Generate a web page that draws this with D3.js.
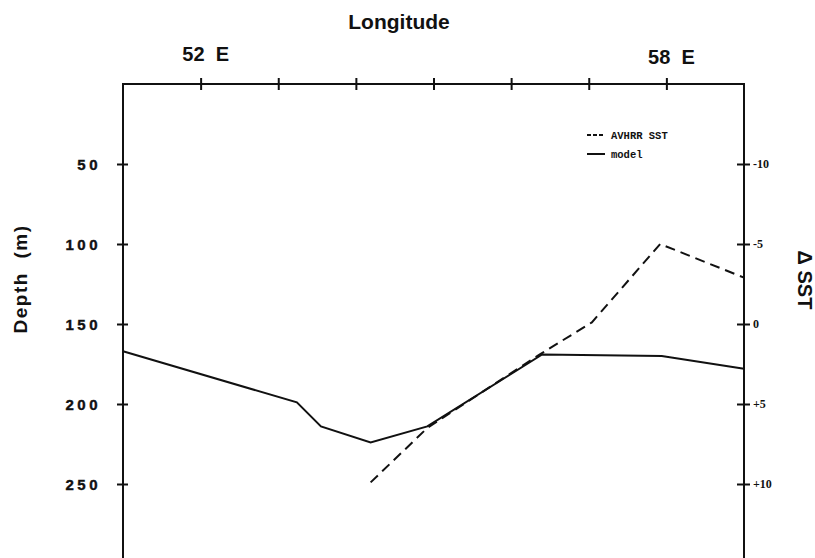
<!doctype html>
<html>
  <head>
    <meta charset="utf-8">
    <script src="https://cdn.jsdelivr.net/npm/d3@7"></script>
    <style>
      body { margin: 0; background: white; }
      svg { display: block; }
      .lab { font-family: 'Liberation Sans', Arial, sans-serif; font-weight: bold; fill: #111; }
      .depth-axis text { font-family: 'Liberation Sans', Arial, sans-serif; font-weight: bold; font-size: 15px; letter-spacing: 3.5px; fill: #111; stroke: #111; stroke-width: 0.4px; }
      .sst-axis text { font-family: 'Liberation Serif', serif; font-weight: bold; font-size: 12px; fill: #111; }
      .axis path { display: none; }
      .axis line { stroke: #111; stroke-width: 2; }
      .legend text { font-family: 'Liberation Mono', monospace; font-weight: bold; font-size: 10.5px; fill: #111; }
    </style>
  </head>
  <body>
    <svg id="chart"></svg>
  <script>

    // model: longitude (deg E) vs depth (m), left axis
    const modelLon   = [51.0, 53.24, 53.55, 54.19, 54.92, 56.4, 57.94, 59.0]
    const modelDepth = [167, 199, 214, 224, 214, 169, 170, 178]

    // AVHRR SST: longitude vs delta SST, right axis
    const sstLon   = [54.19, 54.92, 56.37, 57.04, 57.92, 59.0]
    const sstDelta = [9.9, 6.5, 1.9, -0.1, -5.0, -2.9]

    const lonTicks   = [52, 53, 54, 55, 56, 57, 58]
    const lonLabels  = [52, 58]
    const depthTicks = [50, 100, 150, 200, 250]
    const sstTicks   = [-10, -5, 0, 5, 10]

    const width = 815, height = 558
    const plot = { left: 123, right: 744, top: 84, bottom: 564 }

    const svg = d3.select("#chart")
                  .attr("width", width)
                  .attr("height", height)

    const x = d3.scaleLinear().domain([51, 59]).range([plot.left, plot.right])
    const yDepth = d3.scaleLinear().domain([0, 300]).range([plot.top, plot.bottom])
    const ySST = d3.scaleLinear().domain([-15, 15]).range([plot.top, plot.bottom])

    // frame (top, left, right)
    svg.append("path")
        .attr("d", "M" + plot.left + "," + plot.bottom + "V" + plot.top + "H" + plot.right + "V" + plot.bottom)
        .attr("fill", "none")
        .attr("stroke", "#111")
        .attr("stroke-width", 2)

    // top ticks cross the frame line
    const topAxis = svg.append("g")
        .attr("class", "axis")
        .attr("transform", "translate(0," + plot.top + ")")
        .call(d3.axisTop(x).tickValues(lonTicks).tickFormat(""))
    topAxis.selectAll(".tick line").attr("y1", -6).attr("y2", 6)

    svg.selectAll(".lonlab")
      .data(lonLabels)
      .enter().append("text")
        .attr("class", "lab lonlab")
        .attr("x", (d) => x(d) + 5)
        .attr("y", (d, i) => i == 0 ? 61 : 64)
        .attr("text-anchor", "middle")
        .attr("font-size", 20)
        .attr("xml:space", "preserve")
        .text((d) => d + "  E")

    svg.append("text")
        .attr("class", "lab")
        .attr("x", 399)
        .attr("y", 29)
        .attr("text-anchor", "middle")
        .attr("font-size", 21)
        .text("Longitude")

    // depth axis
    const depthAxis = svg.append("g")
        .attr("class", "axis depth-axis")
        .attr("transform", "translate(" + plot.left + ",0)")
        .call(d3.axisLeft(yDepth).tickValues(depthTicks).tickPadding(16))
    depthAxis.selectAll(".tick line").attr("x1", -6).attr("x2", 5)
    depthAxis.selectAll(".tick text").attr("dy", "0.35em")

    svg.append("text")
        .attr("class", "lab")
        .attr("transform", "translate(27,279) rotate(-90)")
        .attr("text-anchor", "middle")
        .attr("font-size", 19)
        .attr("letter-spacing", 1.5)
        .attr("xml:space", "preserve")
        .text("Depth  (m)")

    // delta SST axis
    const sstAxis = svg.append("g")
        .attr("class", "axis sst-axis")
        .attr("transform", "translate(" + plot.right + ",0)")
        .call(d3.axisRight(ySST).tickValues(sstTicks).tickPadding(3)
                .tickFormat((d) => d > 0 ? "+" + d : (d < 0 ? "-" + (-d) : "0")))
    sstAxis.selectAll(".tick line").attr("x1", -7).attr("x2", 6)

    svg.append("text")
        .attr("class", "lab")
        .attr("transform", "translate(798,280) rotate(90)")
        .attr("text-anchor", "middle")
        .attr("font-size", 20)
        .text("\u0394 SST")

    // lines
    const modelLine = d3.line()
        .x((d, i) => x(modelLon[i]))
        .y((d) => yDepth(d))

    const sstLine = d3.line()
        .x((d, i) => x(sstLon[i]))
        .y((d) => ySST(d))

    svg.append("path")
        .attr("d", modelLine(modelDepth))
        .attr("fill", "none")
        .attr("stroke", "#111")
        .attr("stroke-width", 2)

    svg.append("path")
        .attr("d", sstLine(sstDelta))
        .attr("fill", "none")
        .attr("stroke", "#111")
        .attr("stroke-width", 2)
        .attr("stroke-dasharray", "10,6")

    // legend
    const legend = svg.append("g").attr("class", "legend")
    const legendItems = [
      { name: "AVHRR SST", dash: "4,2", y: 135 },
      { name: "model", dash: null, y: 154 }
    ]
    legend.selectAll("line")
      .data(legendItems)
      .enter().append("line")
        .attr("x1", 587).attr("x2", 605)
        .attr("y1", (d) => d.y).attr("y2", (d) => d.y)
        .attr("stroke", "#111")
        .attr("stroke-width", 2)
        .attr("stroke-dasharray", (d) => d.dash)
    legend.selectAll("text")
      .data(legendItems)
      .enter().append("text")
        .attr("x", 611)
        .attr("y", (d) => d.y + 3.5)
        .text((d) => d.name)

  </script>
  </body>
</html>
